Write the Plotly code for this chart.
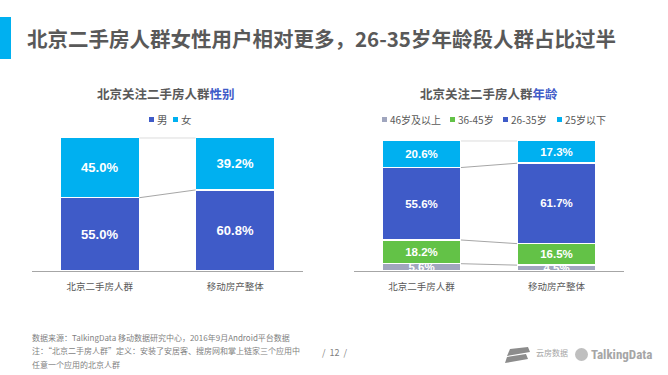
import numpy as np
import plotly.graph_objects as go

# ---------------- data ----------------
categories = ["北京二手房人群", "移动房产整体"]

gender_names = ["男", "女"]
male = [55.0, 60.8]
female = [45.0, 39.2]

age_names = ["46岁及以上", "36-45岁", "26-35岁", "25岁以下"]
age_46_plus = [5.6, 4.5]
age_36_45 = [18.2, 16.5]
age_26_35 = [55.6, 61.7]
age_25_minus = [20.6, 17.3]

title_text = "北京二手房人群女性用户相对更多，26-35岁年龄段人群占比过半"
sub_left = ("北京关注二手房人群", "性别")
sub_right = ("北京关注二手房人群", "年龄")
footer_lines = [
    "数据来源：TalkingData 移动数据研究中心，2016年9月Android平台数据",
    "注：“北京二手房人群”定义：安装了安居客、搜房网和掌上链家三个应用中",
    "任意一个应用的北京人群",
]
page_text = "/  12  /"

# ---------------- styles ----------------
W, H = 668, 375
FONT = "Noto Sans CJK SC"
C_BLUE = "#3F5BC8"
C_CYAN = "#00B0F0"
C_GREEN = "#63C247"
C_GRAY = "#A0A6BE"
TXT = "#595959"
BAR_W = 0.585


def px(x):
    return x / W


def py(y):
    return 1 - y / H


fig = go.Figure()
xs = [0, 1]

gender_series = [male, female]
gender_colors = [C_BLUE, C_CYAN]
for name, vals, col in zip(gender_names, gender_series, gender_colors):
    fig.add_trace(go.Bar(
        x=xs, y=vals, name=name, marker=dict(color=col, line=dict(color="white", width=1.5)),
        width=BAR_W, text=[f"{v:.1f}%" for v in vals], textposition="inside",
        insidetextanchor="middle", constraintext="none",
        textfont=dict(color="white", size=13, family="Arial", weight="bold"),
        xaxis="x", yaxis="y", showlegend=False, hoverinfo="skip"))

age_series = [age_46_plus, age_36_45, age_26_35, age_25_minus]
age_colors = [C_GRAY, C_GREEN, C_BLUE, C_CYAN]
for name, vals, col in zip(age_names, age_series, age_colors):
    fig.add_trace(go.Bar(
        x=xs, y=vals, name=name, marker=dict(color=col, line=dict(color="white", width=1.5)),
        width=BAR_W, text=[f"{v:.1f}%" for v in vals], textposition="inside",
        insidetextanchor="middle", constraintext="none",
        textfont=dict(color="white", size=11.5, family="Arial", weight="bold"),
        xaxis="x2", yaxis="y2", showlegend=False, hoverinfo="skip"))

# connector lines between stacked segments
for series, xa, ya in [(gender_series, "x", "y"), (age_series, "x2", "y2")]:
    cum = np.cumsum(np.array(series), axis=0)
    for level in cum:
        fig.add_trace(go.Scatter(
            x=[0 + BAR_W / 2, 1 - BAR_W / 2], y=list(level), mode="lines",
            line=dict(color="#A6A6A6", width=1), xaxis=xa, yaxis=ya,
            showlegend=False, hoverinfo="skip"))

axis_common = dict(showgrid=False, zeroline=False, showline=True, linecolor="#A6A6A6",
                   linewidth=1, ticks="", tickvals=xs, ticktext=categories,
                   tickfont=dict(family=FONT, size=9.5, color=TXT), range=[-0.5, 1.5],
                   fixedrange=True, ticklabelstandoff=7)
yaxis_common = dict(visible=False, range=[0, 100], fixedrange=True)

annotations = []
shapes = []

# title
shapes.append(dict(type="rect", xref="paper", yref="paper", x0=px(0), x1=px(11),
                   y0=py(59), y1=py(17), fillcolor=C_CYAN, line=dict(width=0)))
annotations.append(dict(text=f"<b>{title_text}</b>", x=px(25), y=py(38), xref="paper",
                        yref="paper", xanchor="left", yanchor="middle", showarrow=False,
                        font=dict(family=FONT, size=20.5, color=TXT)))

# subtitles
for (a, b), cx in [(sub_left, 166), (sub_right, 489)]:
    annotations.append(dict(
        text=f"<b>{a}<span style='color:{C_BLUE}'>{b}</span></b>",
        x=px(cx), y=py(93), xref="paper", yref="paper", xanchor="center", yanchor="middle",
        showarrow=False, font=dict(family=FONT, size=12.5, color=TXT)))

# custom legends
legend_specs = [
    (gender_names, gender_colors, [149, 173], 10.5),
    (age_names, age_colors, [382, 450, 503, 557], 10),
]
for names, cols, xpos, fs in legend_specs:
    for name, col, x0 in zip(names, cols, xpos):
        shapes.append(dict(type="rect", xref="paper", yref="paper", x0=px(x0), x1=px(x0 + 5),
                           y0=py(122), y1=py(117), fillcolor=col, line=dict(width=0)))
        annotations.append(dict(text=name, x=px(x0 + 6), y=py(119.5), xref="paper",
                                yref="paper", xanchor="left", yanchor="middle",
                                showarrow=False, font=dict(family=FONT, size=fs, color=TXT)))

# footer
for i, line in enumerate(footer_lines):
    annotations.append(dict(text=line, x=px(30), y=py(337 + 13.5 * i), xref="paper",
                            yref="paper", xanchor="left", yanchor="middle", showarrow=False,
                            font=dict(family=FONT, size=8, color="#7F7F7F")))
annotations.append(dict(text=page_text, x=px(335), y=py(352), xref="paper", yref="paper",
                        xanchor="center", yanchor="middle", showarrow=False,
                        font=dict(family=FONT, size=9, color="#7F7F7F")))

# logos (approximation)
shapes.append(dict(type="path", xref="paper", yref="paper",
                   path=f"M {px(507)} {py(356)} L {px(530)} {py(352)} L {px(528)} {py(347)} "
                        f"L {px(510)} {py(349)} Z",
                   fillcolor="#8C8C8C", line=dict(width=0)))
shapes.append(dict(type="path", xref="paper", yref="paper",
                   path=f"M {px(505)} {py(363)} L {px(528)} {py(359)} L {px(526)} {py(354)} "
                        f"L {px(507)} {py(357)} Z",
                   fillcolor="#8C8C8C", line=dict(width=0)))
annotations.append(dict(text="云房数据", x=px(534), y=py(352), xref="paper", yref="paper",
                        xanchor="left", yanchor="middle", showarrow=False,
                        font=dict(family=FONT, size=8, color="#A6A6A6")))
shapes.append(dict(type="circle", xref="paper", yref="paper", x0=px(575), x1=px(588),
                   y0=py(361), y1=py(348), fillcolor="#BFBFBF", line=dict(width=0)))
annotations.append(dict(text="<b>TalkingData</b>", x=px(589), y=py(354), xref="paper",
                        yref="paper", xanchor="left", yanchor="middle", showarrow=False,
                        font=dict(family="Roboto Condensed, Liberation Sans Narrow, Arial", size=13,
                                  color="#A6A6A6")))

fig.update_layout(
    width=W, height=H, margin=dict(l=0, r=0, t=0, b=0),
    paper_bgcolor="white", plot_bgcolor="white", barmode="stack",
    xaxis=dict(domain=[px(32), px(303)], anchor="y", **axis_common),
    yaxis=dict(domain=[py(271), py(137.7)], anchor="x", **yaxis_common),
    xaxis2=dict(domain=[px(354), px(624)], anchor="y2", **axis_common),
    yaxis2=dict(domain=[py(271), py(140.7)], anchor="x2", **yaxis_common),
    annotations=annotations, shapes=shapes, showlegend=False,
    font=dict(family=FONT),
)

fig.write_html("out.html", config={"displayModeBar": False, "staticPlot": True},
               post_script="document.body.style.margin='0';document.body.style.overflow='hidden';")
